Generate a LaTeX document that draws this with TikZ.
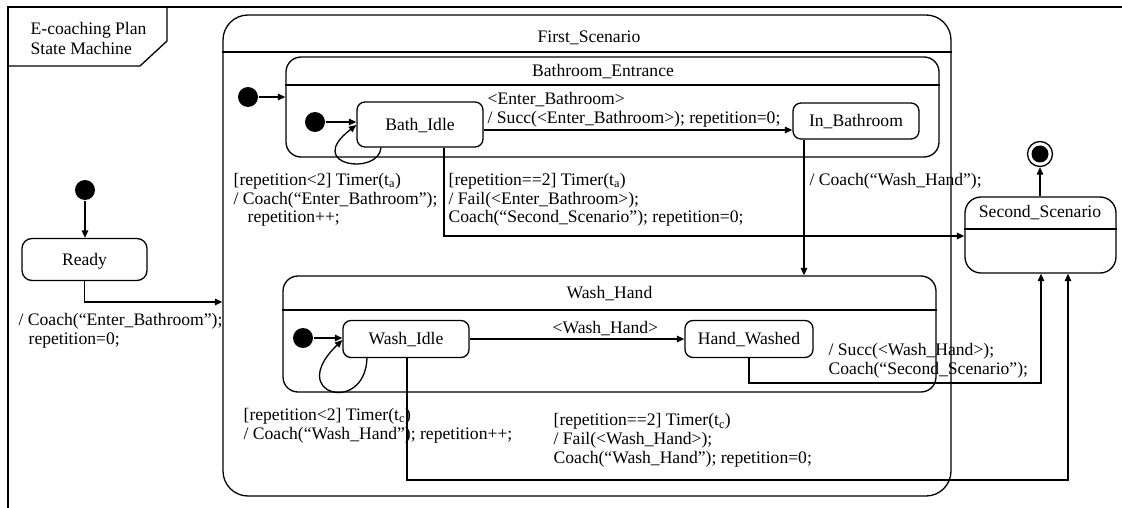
\documentclass[tikz,border=0pt]{standalone}
\usepackage{fontspec}
\setmainfont{Liberation Serif}
\usetikzlibrary{arrows.meta}

\begin{document}
\begin{tikzpicture}[x=1pt,y=-1pt,
  every node/.style={font=\fontsize{17.6pt}{18.8pt}\selectfont, inner sep=0pt},
  line width=1.3pt,
  state/.style={draw, rounded corners=8pt, text height=11.6pt, text depth=0pt},
  comp/.style={draw, rounded corners=15pt},
  title/.style={text height=11.6pt, text depth=0pt},
  initial/.style={circle, fill=black, minimum size=20pt},
  lbl/.style={anchor=north west, align=left},
  arr/.style={-{Triangle[length=7.5pt,width=6.5pt]}},
]
\useasboundingbox (0,0) rectangle (1122,508);
\fill[white] (0,0) rectangle (1122,508);

% diagram frame and its name tab
\draw[line width=1.6pt] (8,508) -- (8,7) -- (1122,7);
\draw (8,66) -- (140,66) -- (167,41) -- (167,7);
\node[lbl, font=\fontsize{17.6pt}{20pt}\selectfont] (frametitle) at (30,21.3) {E-coaching Plan\\State Machine};

% composite states
\node[comp, rounded corners=25pt, minimum width=728pt, minimum height=481pt] (first) at (587,255.5) {};
\draw[line width=1.5pt] (first.west |- 0,52) -- (first.east |- 0,52);
\node[title] (firstT) at (589,36.5) {First\_Scenario};

\node[comp, minimum width=653pt, minimum height=100pt] (bath) at (612.5,107) {};
\draw (bath.west |- 0,85) -- (bath.east |- 0,85);
\node[title] (bathT) at (603,70.8) {Bathroom\_Entrance};

\node[comp, minimum width=653pt, minimum height=116pt] (wash) at (609.5,334) {};
\draw (wash.west |- 0,310) -- (wash.east |- 0,310);
\node[title] (washT) at (609.5,292.5) {Wash\_Hand};

\node[comp, rounded corners=16pt, minimum width=151pt, minimum height=76pt] (second) at (1040.5,235) {};
\draw (second.west |- 0,229) -- (second.east |- 0,229);
\node[title] (secondT) at (1040,211.7) {Second\_Scenario};

% simple states
\node[state, minimum width=126pt, minimum height=45pt] (bidle) at (420,124.5) {Bath\_Idle};
\node[state, minimum width=126pt, minimum height=36pt] (inbath) at (856,121) {In\_Bathroom};
\node[state, minimum width=126pt, minimum height=37pt] (widle) at (406,339) {Wash\_Idle};
\node[state, minimum width=128pt, minimum height=37pt] (hwashed) at (749,339) {Hand\_Washed};
\node[state, rounded corners=10pt, minimum width=125pt, minimum height=42pt] (ready) at (84.5,259.5) {Ready};

% pseudo states
\node[initial] (i0) at (85,190) {};
\node[initial] (i1) at (248,97) {};
\node[initial] (i2) at (315,122) {};
\node[initial] (i3) at (303,338) {};
\node[circle, draw, minimum size=25pt] (final) at (1040,154) {};
\node[initial, minimum size=17pt] (finalIn) at (final) {};

% transitions
\draw[arr] (i0) -- (i0 |- ready.north);
\draw[arr] (ready.south) |- (first.west |- 0,302);
\draw[arr] (i1) -- (i1 -| bath.west);
\draw[arr] (i2) -- (i2 -| bidle.west);
\draw[arr] (bidle.east |- 0,130) -- (inbath.west |- 0,130);
\draw[arr] (bidle.south -| 381,0) .. controls (379,176) and (303,166) .. (bidle.west |- 0,125);
\draw[arr] (bidle.south -| 444,0) |- (second.west |- 0,236);
\draw[arr] (inbath.south -| 804,0) -- (wash.north -| 804,0);
\draw[arr] (final |- second.north) -- (final);
\draw[arr] (i3) -- (i3 -| widle.west);
\draw[arr] (widle.south -| 367,0) .. controls (365,415) and (285,395) .. (widle.west |- 0,340);
\draw[arr] (widle) -- (hwashed);
\draw[arr] (widle.south -| 407,0) -- (407,480) -| (second.south -| 1068,0);
\draw[arr] (hwashed.south -| 749,0) -- (749,383) -| (second.south -| 1041,0);

% transition labels
\node[lbl] (lReady) at (18,313) {/ Coach(“Enter\_Bathroom”);\\\hspace*{10pt}repetition=0;};
\node[lbl] (lBathLoop) at (233,172.5) {[repetition<2] Timer(t\textsubscript{a})\\/ Coach(“Enter\_Bathroom”);\\\hspace*{14pt}repetition++;};
\node[lbl] (lBathFail) at (448,172.5) {[repetition==2] Timer(t\textsubscript{a})\\/ Fail(<Enter\_Bathroom>);\\Coach(“Second\_Scenario”); repetition=0;};
\node[lbl] (lEnter) at (487,91.5) {<Enter\_Bathroom>\\/ Succ(<Enter\_Bathroom>); repetition=0;};
\node[lbl] (lToWash) at (809,173) {/ Coach(“Wash\_Hand”);};
\node[lbl] (lWash) at (552,321) {<Wash\_Hand>};
\node[lbl] (lWashLoop) at (243,407.5) {[repetition<2] Timer(t\textsubscript{c})\\/ Coach(“Wash\_Hand”); repetition++;};
\node[lbl] (lWashFail) at (553,413) {[repetition==2] Timer(t\textsubscript{c})\\/ Fail(<Wash\_Hand>);\\Coach(“Wash\_Hand”); repetition=0;};
\node[lbl] (lSucc) at (828,343) {/ Succ(<Wash\_Hand>);\\Coach(“Second\_Scenario”);};
\end{tikzpicture}
\end{document}
